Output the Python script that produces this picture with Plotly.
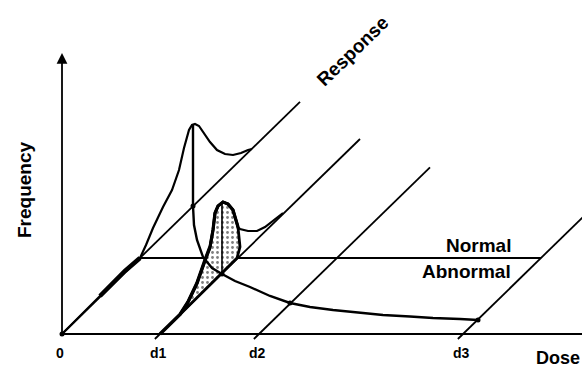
import plotly.graph_objects as go

# ---------------- data (chart units: x = dose scale, y = frequency scale) ----------------
DOSE_LABELS = ["0", "d1", "d2", "d3"]
DOSES = [0, 98, 197, 401]
RESP_AXIS_LEN = [238, 200, 171, 140]     # length of each oblique response axis
RESP_SLOPE = 0.975                       # oblique projection of the response axis
NORMAL_LEVEL = 76                        # Normal / Abnormal boundary
FREQ_AXIS_TOP = 281
DOSE_AXIS_END = 520

# distribution at dose 0
dist0_x = [0, 38, 63, 78, 84, 91, 101, 110, 117, 122, 127, 130, 133, 137, 142, 148, 155, 163, 171, 179, 186, 190]
dist0_y = [0, 38, 63, 76, 89, 106, 127, 144, 164, 186, 204, 209, 210, 208, 201, 192, 184, 180, 179, 181, 184, 185]

# distribution at dose d1 (curve)
dist1_x = [98, 118, 126, 135, 143, 148, 151, 153, 156, 161, 166, 171, 176, 178, 186, 195, 203, 213, 221]
dist1_y = [0, 19.5, 32, 51, 74, 87, 104, 121, 128, 132, 130, 124, 107, 105, 103, 103, 107, 115, 121]

# shaded part of the d1 distribution
blob_x = [118, 126, 135, 143, 148, 151, 153, 156, 161, 166, 171, 176, 178, 175, 118]
blob_y = [19.5, 32, 51, 74, 87, 104, 121, 128, 132, 130, 124, 107, 87, 76, 19.5]

# proportion-normal curve across doses
resp_x = [131, 131, 132, 135, 141, 150, 160, 173, 188, 208, 228, 248, 271, 298, 321, 348, 371, 398, 416]
resp_y = [210, 128, 109, 94, 77, 66, 60, 53, 47, 38, 31, 27, 24, 21, 19, 17.5, 16, 15, 14]
resp_dots_x = [131, 160, 228, 416]
resp_dots_y = [128, 60, 31, 14]

# mode line of the d1 distribution
mode1_x = [160, 160]
mode1_y = [60.5, 132]

# ---------------- figure ----------------
fig = go.Figure()
BLK = "black"

def line(x, y, w=2.0):
    fig.add_trace(go.Scatter(x=x, y=y, mode="lines", line=dict(color=BLK, width=w),
                             showlegend=False, hoverinfo="skip"))

# baseline (dose axis)
line([0, DOSE_AXIS_END], [0, 0], 2.2)

# oblique response axes
for i, (d, L) in enumerate(zip(DOSES, RESP_AXIS_LEN)):
    start = 0 if i == 0 else -5
    line([d + start / RESP_SLOPE, d + L], [start, L * RESP_SLOPE], 1.8)

# normal/abnormal boundary
line([NORMAL_LEVEL / RESP_SLOPE, DOSES[3] + NORMAL_LEVEL / RESP_SLOPE], [NORMAL_LEVEL, NORMAL_LEVEL], 1.8)

# shaded blob
fig.add_trace(go.Scatter(x=blob_x, y=blob_y, mode="lines", fill="toself",
                         fillcolor="rgba(0,0,0,0)",
                         fillpattern=dict(shape=".", fgcolor="black", bgcolor="white", size=5, solidity=0.25),
                         line=dict(color=BLK, width=2.8), showlegend=False, hoverinfo="skip"))

# curves
line(dist0_x, dist0_y, 2.2)
line(dist0_x[1:4], dist0_y[1:4], 4.5)
line(dist1_x, dist1_y, 2.2)
line(dist1_x[:6], dist1_y[:6], 3.5)
line(dist1_x[5:13], dist1_y[5:13], 3.2)
line(mode1_x, mode1_y, 1.6)
line(resp_x, resp_y, 2.4)

fig.add_trace(go.Scatter(x=resp_dots_x + [0], y=resp_dots_y + [0], mode="markers",
                         marker=dict(color=BLK, size=5), showlegend=False, hoverinfo="skip"))

# frequency axis with arrow
fig.add_annotation(x=0, y=FREQ_AXIS_TOP, ax=0, ay=0, xref="x", yref="y", axref="x", ayref="y",
                   showarrow=True, arrowhead=2, arrowsize=1.2, arrowwidth=1.8, arrowcolor=BLK, text="")

FONT = "Liberation Sans, Arial, sans-serif"
big = dict(family=FONT, size=19, color=BLK)
small = dict(family=FONT, size=14, color=BLK)

fig.add_annotation(x=-38, y=144, text="<b>Frequency</b>", textangle=-90, showarrow=False, font=big)
fig.add_annotation(x=290, y=283, text="<b>Response</b>", textangle=-44, showarrow=False, font=big)
fig.add_annotation(x=451, y=89, text="<b>Normal</b>", xanchor="right", showarrow=False, font=big)
fig.add_annotation(x=451, y=63, text="<b>Abnormal</b>", xanchor="right", showarrow=False, font=big)
fig.add_annotation(x=519, y=-24, text="<b>Dose</b>", xanchor="right", showarrow=False,
                   font=dict(family=FONT, size=18, color=BLK), borderpad=0)
for lab, d in zip(DOSE_LABELS, DOSES):
    fig.add_annotation(x=d - 2, y=-19, text="<b>" + lab + "</b>", showarrow=False, font=small)

fig.update_layout(width=582, height=369, margin=dict(l=0, r=0, t=0, b=0, pad=0),
                  paper_bgcolor="white", plot_bgcolor="white",
                  xaxis=dict(range=[-62, 520], visible=False, fixedrange=True),
                  yaxis=dict(range=[-35, 334], visible=False, fixedrange=True))

fig.write_html("out.html")
